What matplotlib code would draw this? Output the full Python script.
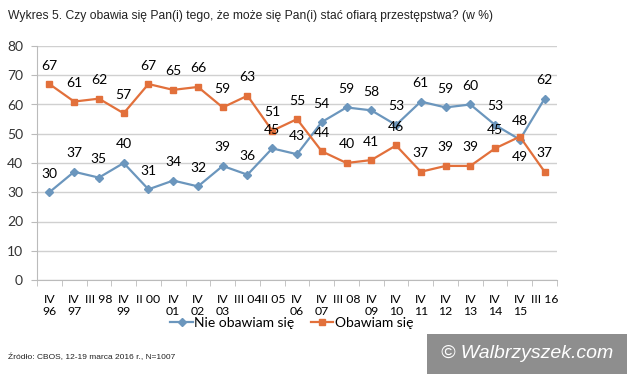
import matplotlib.pyplot as plt
import matplotlib.patches as patches

# survey waves (two-line tick labels)
waves = ["IV\n96", "IV\n97", "III 98", "IV\n99", "II 00", "IV\n01", "IV\n02",
         "IV\n03", "III 04", "III 05", "IV\n06", "IV\n07", "III 08", "IV\n09",
         "IV\n10", "IV\n11", "IV\n12", "IV\n13", "IV\n14", "IV\n15", "III 16"]
nie_obawiam = [30, 37, 35, 40, 31, 34, 32, 39, 36, 45, 43, 54, 59, 58, 53, 61, 59, 60, 53, 48, 62]
obawiam = [67, 61, 62, 57, 67, 65, 66, 59, 63, 51, 55, 44, 40, 41, 46, 37, 39, 39, 45, 49, 37]

BLUE = "#6b96bd"
ORANGE = "#e2703b"
LBL = "Lato"

fig = plt.figure(figsize=(6.27, 3.74), dpi=100)
ax = fig.add_axes([37 / 627, 1 - 280 / 374, 520 / 627, 234 / 374])

x = list(range(len(waves)))
ax.plot(x, nie_obawiam, color=BLUE, lw=1.6, marker="D", ms=4, label="Nie obawiam się")
ax.plot(x, obawiam, color=ORANGE, lw=1.6, marker="s", ms=5, label="Obawiam się")

for i, v in enumerate(nie_obawiam):
    ax.annotate(str(v), (i, v), xytext=(0, 9), textcoords="offset points",
                ha="center", va="bottom", fontsize=10, family=LBL)
for i, v in enumerate(obawiam):
    below = waves[i] == "IV\n15"
    ax.annotate(str(v), (i, v), xytext=(0, -10 if below else 9), textcoords="offset points",
                ha="center", va="top" if below else "bottom", fontsize=10, family=LBL)

ax.set_xlim(-0.5, len(waves) - 0.5)
ax.set_ylim(0, 80)
ax.set_yticks(range(0, 81, 10))
ax.set_xticks(x)
ax.set_xticklabels(waves, fontsize=8.8, family=LBL, va="top", linespacing=1.1,
                   multialignment="center")
ax.set_xticks([i - 0.5 for i in range(len(waves) + 1)], minor=True)
ax.tick_params(axis="x", which="major", length=0, pad=10)
ax.tick_params(axis="x", which="minor", length=4, color="#bbbbbb")
ax.tick_params(axis="y", length=4, color="#bbbbbb", labelsize=10, labelcolor="#333333", pad=6)
for t in ax.get_yticklabels():
    t.set_family(LBL)

ax.grid(axis="y", color="#d0d0d0", lw=1)
ax.set_axisbelow(True)
for s in ["top", "right"]:
    ax.spines[s].set_visible(False)
for s in ["left", "bottom"]:
    ax.spines[s].set_color("#bbbbbb")

ax.legend(loc="upper center", bbox_to_anchor=(0.49, -0.105), ncol=2, frameon=False,
          prop={"family": LBL, "size": 10}, handlelength=1.6, columnspacing=1.2,
          handletextpad=0.1)

fig.text(8 / 627, 1 - 16 / 374, "Wykres 5. Czy obawia się Pan(i) tego, że może się Pan(i) stać ofiarą przestępstwa? (w %)",
         fontsize=8.7, family="Liberation Sans", va="center", color="#222222")
fig.text(8 / 627, 1 - 357 / 374, "Źródło: CBOS, 12-19 marca 2016 r., N=1007",
         fontsize=6, family="Liberation Sans", va="center", color="#222222")

fig.patches.append(patches.Rectangle((427 / 627, 0), 200 / 627, 40 / 374,
                                     transform=fig.transFigure, fc="#8e8e8e", ec="none"))
fig.text(527 / 627, 20 / 374, "© Walbrzyszek.com", fontsize=14, style="italic",
         family="Liberation Sans", color="white", ha="center", va="center")

fig.savefig("out.png", dpi=100)
